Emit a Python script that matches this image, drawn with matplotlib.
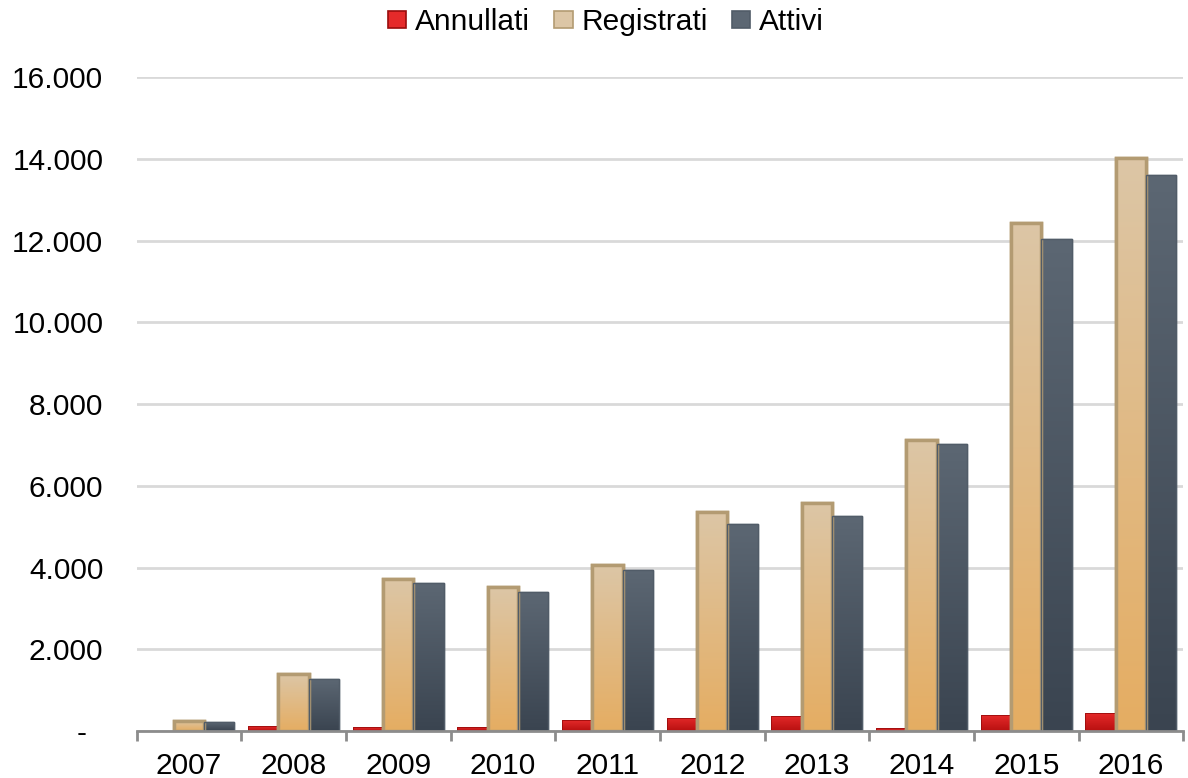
import numpy as np
import matplotlib.pyplot as plt
from matplotlib.colors import LinearSegmentedColormap
from matplotlib.patches import Patch

plt.rcParams['font.family'] = ['Liberation Sans', 'DejaVu Sans']

# Data
years = ['2007', '2008', '2009', '2010', '2011', '2012', '2013', '2014', '2015', '2016']
annullati = [0, 120, 90, 110, 260, 320, 370, 70, 390, 440]
registrati = [250, 1390, 3720, 3520, 4060, 5360, 5580, 7120, 12420, 14020]
attivi = [220, 1270, 3620, 3400, 3940, 5060, 5260, 7020, 12040, 13600]

series = [
    ('Annullati', annullati, ['#b81010', '#e52a2a'], '#9a0c0c', 0.6),
    ('Registrati', registrati, ['#e5ad62', '#dcc6a6'], '#b39b72', 2.5),
    ('Attivi', attivi, ['#3a4450', '#5c6773'], '#515c68', 1.0),
]

fig = plt.figure(figsize=(11.88, 7.78), dpi=100)
ax = fig.add_axes([0.115, 0.0604, 0.881, 0.8406])

x = np.arange(len(years))
w = 0.29
offsets = [-w, 0, w]
grad = np.linspace(0, 1, 256).reshape(-1, 1)

for (name, vals, cols, edge, lw), off in zip(series, offsets):
    cmap = LinearSegmentedColormap.from_list(name, cols)
    bars = ax.bar(x + off, vals, w, facecolor=cols[0], edgecolor=edge,
                  linewidth=lw, zorder=3)
    for b in bars:
        h = b.get_height()
        if h <= 0:
            continue
        x0 = b.get_x()
        im = ax.imshow(grad, extent=[x0, x0 + w, 0, h], origin='lower',
                       aspect='auto', cmap=cmap, zorder=3)
        im.set_clip_path(b)
        # redraw the outline on top of the gradient
        ax.bar(x0 + w / 2, h, w, facecolor='none', edgecolor=edge,
               linewidth=lw, zorder=4)

ax.set_xlim(-0.5, len(years) - 0.5)
ax.set_ylim(0, 16000)

yt = np.arange(0, 16001, 2000)
ax.set_yticks(yt)
ax.set_yticklabels(['-  '] + [f'{v:,}'.replace(',', '.') for v in yt[1:]])
ax.yaxis.grid(True, color='#d9d9d9', linewidth=2, zorder=0)
ax.set_axisbelow(True)

ax.set_xticks(x)
ax.set_xticklabels(years)
ax.set_xticks(np.arange(-0.5, len(years), 1), minor=True)
ax.tick_params(axis='x', which='major', length=0, pad=15, labelsize=21.5)
ax.tick_params(axis='x', which='minor', length=7, width=2, color='#8c8c8c', direction='out')
ax.tick_params(axis='y', length=0, pad=24, labelsize=21.5)

for s in ['top', 'right', 'left']:
    ax.spines[s].set_visible(False)
ax.spines['bottom'].set_color('#8c8c8c')
ax.spines['bottom'].set_linewidth(2)
ax.spines['bottom'].set_zorder(5)

handles = [Patch(facecolor=c[1], edgecolor=e, linewidth=1.2) for _, _, c, e, _ in series]
fig.legend(handles, [s[0] for s in series], loc='center', bbox_to_anchor=(0.51, 0.972),
           ncol=3, frameon=False, fontsize=21.5, handlelength=0.62, handleheight=0.5,
           handletextpad=0.3, columnspacing=0.8, borderpad=0.2)

fig.savefig('out.png', dpi=100)
